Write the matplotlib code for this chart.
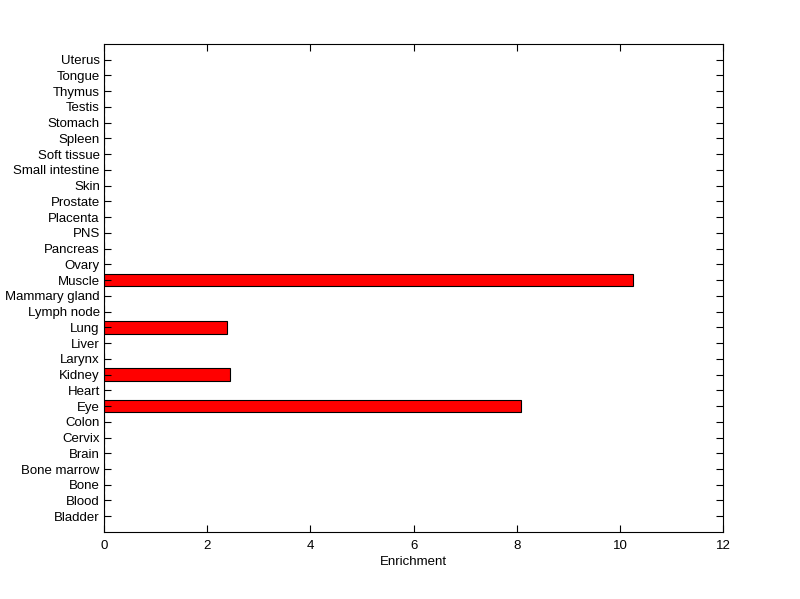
import matplotlib
matplotlib.use("Agg")
import matplotlib.pyplot as plt
import numpy as np

plt.rcParams['font.family'] = ['Liberation Sans', 'DejaVu Sans']

tissues = ["Bladder", "Blood", "Bone", "Bone marrow", "Brain", "Cervix", "Colon", "Eye",
           "Heart", "Kidney", "Larynx", "Liver", "Lung", "Lymph node", "Mammary gland",
           "Muscle", "Ovary", "Pancreas", "PNS", "Placenta", "Prostate", "Skin",
           "Small intestine", "Soft tissue", "Spleen", "Stomach", "Testis", "Thymus",
           "Tongue", "Uterus"]
enrichment = [0, 0, 0, 0, 0, 0, 0, 8.08, 0, 2.45, 0, 0, 2.38, 0, 0, 10.26,
              0, 0, 0, 0, 0, 0, 0, 0, 0, 0, 0, 0, 0, 0]
xticks = [0, 2, 4, 6, 8, 10, 12]

fig = plt.figure(figsize=(8, 5.99), dpi=100)
ax = fig.add_axes([0.13, 0.1119, 0.774, 0.8147])
pos = np.arange(1, len(tissues) + 1)
ax.barh(pos, enrichment, height=0.8, color='#ff0000', edgecolor='black', linewidth=0.8)
ax.set_ylim(0, len(tissues) + 1)
ax.set_xlim(0, 12)
ax.set_yticks(pos)
ax.set_yticklabels(tissues)
ax.set_xticks(xticks)
ax.set_xticklabels([str(x) for x in xticks])
ax.tick_params(direction='in', length=5, width=0.8, labelsize=9.5, top=True, right=True,
               colors='black')
ax.tick_params(axis='y', pad=3)
ax.tick_params(axis='x', pad=6)
for s in ax.spines.values():
    s.set_linewidth(0.8)
ax.set_xlabel("Enrichment", fontsize=9.5, labelpad=3)
fig.savefig("out.png", dpi=100)
